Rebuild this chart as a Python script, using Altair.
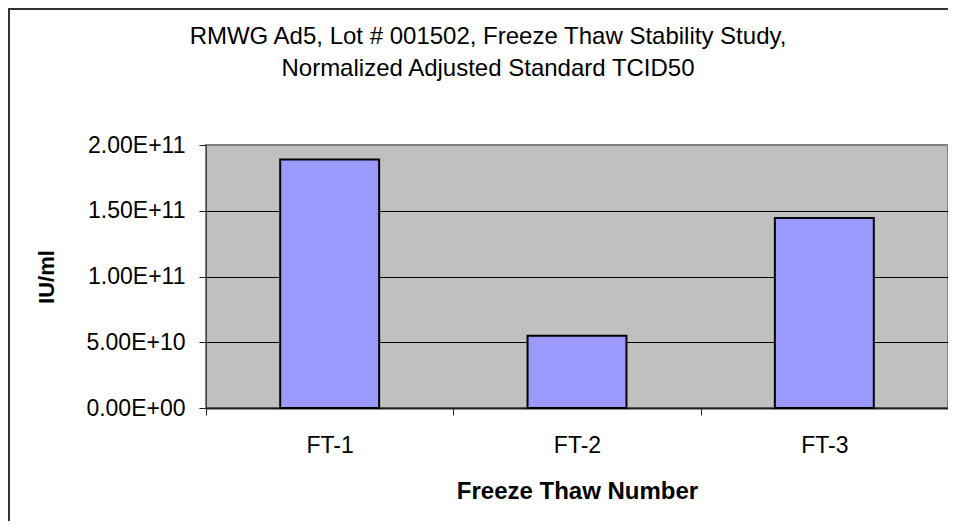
import altair as alt
import pandas as pd

categories = ["FT-1", "FT-2", "FT-3"]
iu_per_ml = [1.89e11, 5.5e10, 1.445e11]
y_ticks = [0, 5e10, 1e11, 1.5e11, 2e11]
title_lines = ["RMWG Ad5, Lot # 001502, Freeze Thaw Stability Study,",
               "Normalized Adjusted Standard TCID50"]
x_title = "Freeze Thaw Number"
y_title = "IU/ml"

df = pd.DataFrame({"cat": categories, "val": iu_per_ml})

W, H = 742, 263
FONT = "Liberation Sans"

bars = alt.Chart(df).mark_bar(
    width=alt.RelativeBandSize(0.4), fill="#9999FF", stroke="black", strokeWidth=2
).encode(
    x=alt.X("cat:N", sort=categories,
            scale=alt.Scale(paddingInner=0, paddingOuter=0),
            axis=alt.Axis(title=x_title, labelAngle=0, tickBand="extent", tickSize=7,
                          tickColor="#202020", domainColor="#202020", domainWidth=2,
                          labelPadding=19, titlePadding=22, grid=False,
                          labelFont=FONT, labelFontSize=23, labelColor="black",
                          titleFont=FONT, titleFontSize=24, titleFontWeight="bold",
                          titleColor="black")),
    y=alt.Y("val:Q", scale=alt.Scale(domain=[0, 2e11], nice=False, zero=True),
            axis=alt.Axis(values=y_ticks,
                          labelExpr="datum.value == 0 ? '0.00E+00' : upper(format(datum.value, '.2e'))",
                          grid=True,
                          gridColor={"condition": {"test": "datum.value >= 2e11", "value": "#808080"},
                                     "value": "black"},
                          gridWidth=1, tickSize=7, tickColor="#202020",
                          domainColor="#404040", domainWidth=1,
                          labelPadding=14, labelFont=FONT, labelFontSize=23, labelColor="black",
                          title=y_title, titleFont=FONT, titleFontSize=22, titleFontWeight="bold",
                          titleColor="black", titleX=-153, titleY=H / 2, titleAngle=270,
                          titleAlign="center", titleBaseline="alphabetic")),
)

border_data = pd.DataFrame({"k": [0]})
left_border = alt.Chart(border_data).mark_rule(color="#333333", strokeWidth=2).encode(
    x=alt.value(-197), y=alt.value(-137), y2=alt.value(H + 113))
top_border = alt.Chart(border_data).mark_rule(color="#333333", strokeWidth=2).encode(
    x=alt.value(-198), x2=alt.value(W), y=alt.value(-136))

chart = alt.layer(bars, left_border, top_border).properties(
    width=W, height=H,
    padding={"left": 198, "top": 137, "right": 0, "bottom": 113},
    autosize=alt.AutoSizeParams(type="none"),
    background="white",
    title=alt.TitleParams(text=title_lines, anchor="middle", dx=-89, dy=93, fontSize=24,
                          font=FONT, fontWeight="normal", lineHeight=32, color="black",
                          baseline="alphabetic", offset=0),
).configure_view(fill="#C0C0C0", stroke="#808080", strokeWidth=2)

chart.save("out.html", embed_options={"renderer": "svg", "actions": False})
